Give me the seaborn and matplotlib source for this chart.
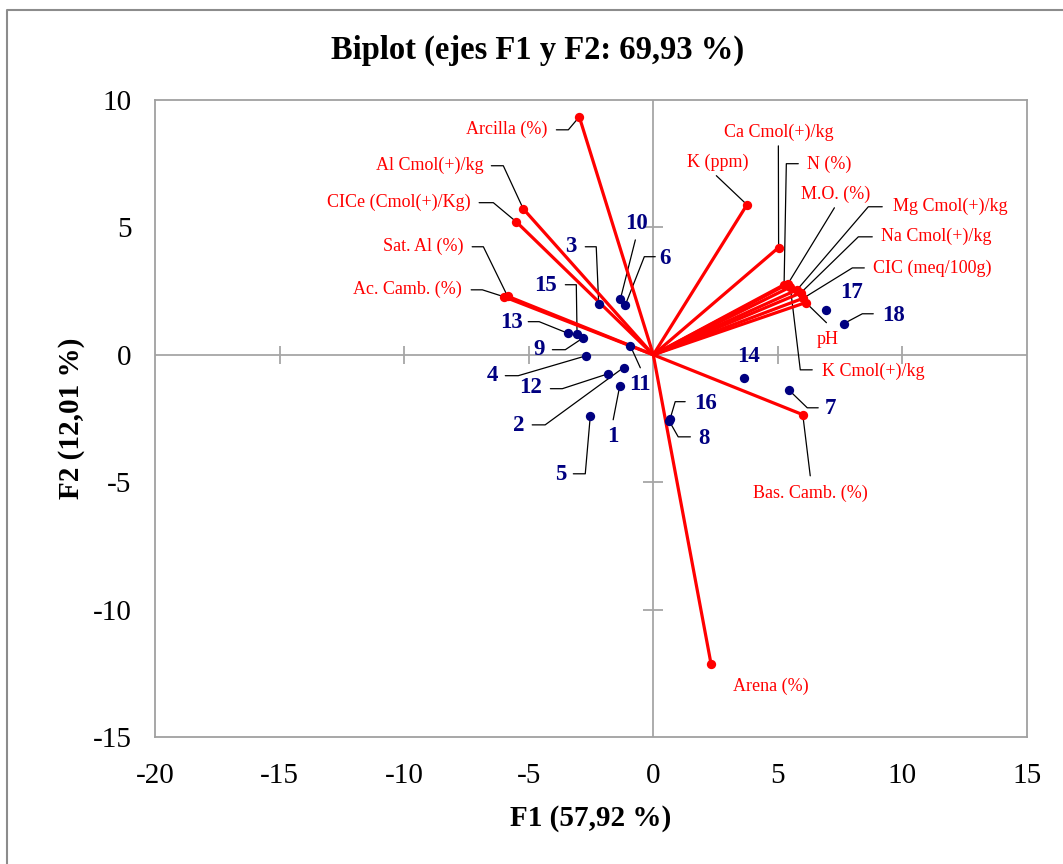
import numpy as np
import pandas as pd
import matplotlib
matplotlib.use("Agg")
import matplotlib.pyplot as plt
import seaborn as sns
from matplotlib.lines import Line2D

# variable loadings (red vectors)
var_names = ["Arcilla (%)", "Al Cmol(+)/kg", "CICe (Cmol(+)/Kg)", "Sat. Al (%)",
             "Ac. Camb. (%)", "K (ppm)", "Ca Cmol(+)/kg", "N (%)", "M.O. (%)",
             "Mg Cmol(+)/kg", "Na Cmol(+)/kg", "CIC (meq/100g)", "pH",
             "K Cmol(+)/kg", "Bas. Camb. (%)", "Arena (%)"]
var_f1 = [-2.97, -5.22, -5.50, -5.85, -6.00, 3.76, 5.03, 5.25, 5.40,
          5.77, 5.92, 6.02, 6.12, 5.50, 6.00, 2.32]
var_f2 = [9.34, 5.73, 5.22, 2.30, 2.28, 5.89, 4.21, 2.75, 2.78,
          2.55, 2.43, 2.22, 2.05, 2.66, -2.35, -12.14]

# observations (navy points)
obs_names = ["1", "2", "3", "4", "5", "6", "7", "8", "9", "10",
             "11", "12", "13", "14", "15", "16", "17", "18"]
obs_f1 = [-1.35, -1.19, -2.19, -2.70, -2.53, -1.12, 5.43, 0.64, -2.84, -1.32,
          -0.92, -1.83, -3.44, 3.63, -3.06, 0.68, 6.95, 7.64]
obs_f2 = [-1.24, -0.50, 1.99, -0.04, -2.42, 1.96, -1.37, -2.60, 0.65, 2.19,
          0.35, -0.75, 0.85, -0.92, 0.82, -2.50, 1.74, 1.22]

title = "Biplot (ejes F1 y F2: 69,93 %)"
xlabel = "F1 (57,92 %)"
ylabel = "F2 (12,01 %)"
xticks = [-20, -15, -10, -5, 0, 5, 10, 15]
yticks = [-15, -10, -5, 0, 5, 10]

# label layout: text anchor, alignment, leader start, optional knee
var_layout = {
    "Arcilla (%)": ((-4.26, 8.83), "right", (-3.89, 8.83), (-3.41, 8.83)),
    "Al Cmol(+)/kg": ((-6.82, 7.42), "right", (-6.50, 7.42), (-6.02, 7.42)),
    "CICe (Cmol(+)/Kg)": ((-7.35, 5.97), "right", (-6.99, 5.97), (-6.42, 5.97)),
    "Sat. Al (%)": ((-7.63, 4.24), "right", (-7.27, 4.24), (-6.82, 4.24)),
    "Ac. Camb. (%)": ((-7.67, 2.55), "right", (-7.31, 2.55), (-6.86, 2.55)),
    "K (ppm)": ((2.57, 7.57), "center", (2.53, 7.03), None),
    "Ca Cmol(+)/kg": ((5.02, 8.75), "center", (5.02, 8.20), None),
    "N (%)": ((6.18, 7.46), "left", (5.82, 7.50), (5.34, 7.50)),
    "M.O. (%)": ((7.31, 6.28), "center", (7.27, 5.77), None),
    "Mg Cmol(+)/kg": ((9.63, 5.81), "left", (9.19, 5.81), (8.63, 5.81)),
    "Na Cmol(+)/kg": ((9.15, 4.63), "left", (8.79, 4.63), (8.23, 4.63)),
    "CIC (meq/100g)": ((8.83, 3.41), "left", (8.47, 3.41), (7.99, 3.41)),
    "pH": ((6.98, 0.59), "center", (6.95, 1.26), None),
    "K Cmol(+)/kg": ((6.78, -0.63), "left", (6.38, -0.59), (5.90, -0.59)),
    "Bas. Camb. (%)": ((6.30, -5.42), "center", (6.30, -4.75), None),
    "Arena (%)": ((4.70, -13.03), "center", None, None),
}
obs_layout = {
    "1": ((-1.61, -3.22), (-1.61, -2.55), None),
    "2": ((-5.42, -2.79), (-4.86, -2.75), (-4.34, -2.75)),
    "3": ((-3.33, 4.24), (-2.73, 4.24), (-2.29, 4.24)),
    "4": ((-6.46, -0.82), (-5.94, -0.82), (-5.42, -0.82)),
    "5": ((-3.73, -4.71), (-3.21, -4.67), (-2.73, -4.67)),
    "6": ((0.48, 3.77), (0.08, 3.85), (-0.36, 3.85)),
    "7": ((7.11, -2.12), (6.62, -2.08), (6.18, -2.08)),
    "8": ((2.05, -3.30), (1.49, -3.22), (1.00, -3.22)),
    "9": ((-4.58, 0.20), (-4.05, 0.20), (-3.53, 0.20)),
    "10": ((-0.68, 5.14), (-0.72, 4.51), None),
    "11": ((-0.52, -1.18), (-0.52, -0.51), None),
    "12": ((-4.94, -1.30), (-4.13, -1.33), (-3.65, -1.33)),
    "13": ((-5.70, 1.26), (-5.02, 1.30), (-4.58, 1.30)),
    "14": ((3.81, -0.08), None, None),
    "15": ((-4.34, 2.71), (-3.53, 2.75), (-3.09, 2.75)),
    "16": ((2.09, -1.92), (1.28, -1.84), (0.88, -1.84)),
    "17": ((7.95, 2.43), None, None),
    "18": ((9.63, 1.53), (8.83, 1.61), (8.39, 1.61)),
}

RED = "#ff0000"
NAVY = "#000080"
GRAY = "#a6a6a6"

var_df = pd.DataFrame({"name": var_names, "F1": var_f1, "F2": var_f2})
obs_df = pd.DataFrame({"name": obs_names, "F1": obs_f1, "F2": obs_f2})
# segments from the origin for each vector
seg_df = pd.concat([
    pd.DataFrame({"name": var_names, "F1": 0.0, "F2": 0.0, "order": 0}),
    var_df.assign(order=1),
]).sort_values(["name", "order"])

sns.set_theme(style="white")
plt.rcParams["font.family"] = ["Liberation Serif", "DejaVu Serif"]
plt.rcParams["axes.unicode_minus"] = False
plt.rcParams["text.color"] = "black"
plt.rcParams["axes.labelcolor"] = "black"

fig = plt.figure(figsize=(10.63, 8.64), dpi=100)
ax = fig.add_axes([155 / 1063, 1 - 737 / 864, 872 / 1063, 637 / 864])
# outer chart frame (only left and top edges are visible in the crop)
fig.lines.append(Line2D([7 / 1063, 7 / 1063, 1], [0, 1 - 10 / 864, 1 - 10 / 864],
                        transform=fig.transFigure, color="#8c8c8c", lw=1.5))

ax.set_xlim(-20, 15)
ax.set_ylim(-15, 10)

# zero axes with cross ticks
ax.axhline(0, color=GRAY, lw=1.3, zorder=1)
ax.axvline(0, color=GRAY, lw=1.3, zorder=1)
inner_x = [t for t in xticks if t != 0 and xticks[0] < t < xticks[-1]]
inner_y = [t for t in yticks if t != 0 and yticks[0] < t < yticks[-1]]
ax.plot(inner_x, [0] * len(inner_x), ls="none",
        marker="|", ms=13, mew=1.3, color=GRAY, zorder=1)
ax.plot([0] * len(inner_y), inner_y, ls="none",
        marker="_", ms=14, mew=1.3, color=GRAY, zorder=1)

sns.lineplot(data=seg_df, x="F1", y="F2", units="name", estimator=None,
             sort=False, color=RED, lw=2.3, ax=ax, zorder=3)
sns.scatterplot(data=var_df, x="F1", y="F2", color=RED, s=45,
                edgecolor=RED, linewidth=0, ax=ax, zorder=4)
sns.scatterplot(data=obs_df, x="F1", y="F2", color=NAVY, s=45,
                edgecolor=NAVY, linewidth=0, ax=ax, zorder=4)


def leader(start, knee, end):
    if start is None:
        return
    pts = [start] + ([knee] if knee is not None else []) + [end]
    ax.plot([p[0] for p in pts], [p[1] for p in pts], color="black",
            lw=0.9, zorder=2)


for name, x, y in zip(var_names, var_f1, var_f2):
    pos, ha, start, knee = var_layout[name]
    ax.text(pos[0], pos[1], name, ha=ha, va="center", color=RED, fontsize=13)
    leader(start, knee, (x, y))

for name, x, y in zip(obs_names, obs_f1, obs_f2):
    pos, start, knee = obs_layout[name]
    ax.text(pos[0], pos[1], name, ha="center", va="center", color=NAVY,
            fontsize=16.5, fontweight="bold")
    leader(start, knee, (x, y))

ax.set_xticks(xticks)
ax.set_yticks(yticks)
ax.tick_params(axis="both", length=0, labelsize=21, colors="black")
ax.tick_params(axis="x", pad=19)
ax.tick_params(axis="y", pad=17)
for sp in ax.spines.values():
    sp.set_color("#a0a0a0")
    sp.set_linewidth(1.3)

ax.set_xlabel(xlabel, fontsize=21, fontweight="bold", labelpad=11)
ax.set_ylabel(ylabel, fontsize=21, fontweight="bold", labelpad=5)
fig.text(538 / 1063, 1 - 50 / 864, title, ha="center", va="center",
         fontsize=23.5, fontweight="bold")

fig.savefig("out.png", dpi=100)
